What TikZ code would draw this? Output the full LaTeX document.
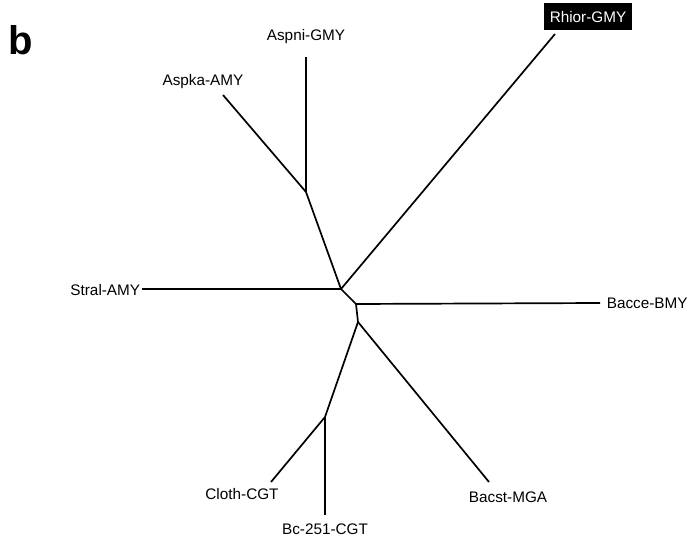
\documentclass[tikz,border=0pt]{standalone}
\usepackage{fontspec}
\setmainfont{Liberation Sans}
\usepackage{tikz}

\begin{document}
\begin{tikzpicture}[x=1pt,y=-1pt,-,line width=1.7pt,
  leaf/.style={font=\fontsize{15.3}{16}\selectfont,inner sep=0pt},
  boxed leaf/.style={leaf,fill=black,text=white,minimum width=88pt,minimum height=27pt}]

  \useasboundingbox (0,0) rectangle (691,540);

  \node[font=\fontsize{40}{40}\selectfont\bfseries,inner sep=0pt] (tag) at (21,40) {b};

  % inner nodes of the tree
  \coordinate (a) at (341,289);
  \coordinate (b) at (306,192);
  \coordinate (c) at (356,304);
  \coordinate (d) at (358,322);
  \coordinate (e) at (325,417);

  % tips
  \coordinate (t1) at (555,34);
  \coordinate (t2) at (306,57);
  \coordinate (t3) at (223,95);
  \coordinate (t4) at (142,289);
  \coordinate (t5) at (600,303);
  \coordinate (t6) at (489,482);
  \coordinate (t7) at (271,482);
  \coordinate (t8) at (325,515);

  \node[boxed leaf] (rhior) at (588,17) {Rhior-GMY};
  \node[leaf] (aspni) at (306,37) {Aspni-GMY};
  \node[leaf] (aspka) at (203,82) {Aspka-AMY};
  \node[leaf,anchor=east] (stral) at (141,290) {Stral-AMY};
  \node[leaf,anchor=west] (bacce) at (606,303) {Bacce-BMY};
  \node[leaf] (bacst) at (508,497) {Bacst-MGA};
  \node[leaf] (cloth) at (242,494) {Cloth-CGT};
  \node[leaf] (bc251) at (325,529) {Bc-251-CGT};

  \path
    (a) edge (t1)
    (a) edge (b)
    (a) edge (t4)
    (a) edge (c)
    (b) edge (t2)
    (b) edge (t3)
    (c) edge (t5)
    (c) edge (d)
    (d) edge (t6)
    (d) edge (e)
    (e) edge (t7)
    (e) edge (t8);
\end{tikzpicture}
\end{document}
